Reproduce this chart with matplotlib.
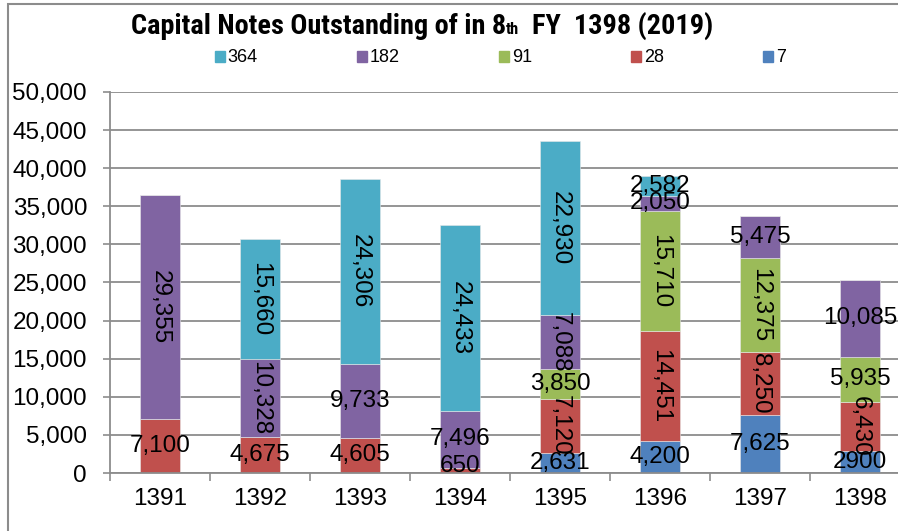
import matplotlib
matplotlib.use('Agg')
import matplotlib.pyplot as plt
import matplotlib.ticker as tkr
from matplotlib.patches import Patch, Rectangle
from matplotlib.offsetbox import TextArea, HPacker, AnchoredOffsetbox
from matplotlib import font_manager

years = ['1391', '1392', '1393', '1394', '1395', '1396', '1397', '1398']
series_names = ['7', '28', '91', '182', '364']  # bottom to top

d7 = [0, 0, 0, 0, 2631, 4200, 7625, 2900]
d28 = [7100, 4675, 4605, 650, 7120, 14451, 8250, 6430]
d91 = [0, 0, 0, 0, 3850, 15710, 12375, 5935]
d182 = [29355, 10328, 9733, 7496, 7088, 2050, 5475, 10085]
d364 = [0, 15660, 24306, 24433, 22930, 2582, 0, 0]

colors = {'7': '#4F81BD', '28': '#C0504D', '91': '#9BBB59', '182': '#8064A2', '364': '#4BACC6'}

# labels drawn vertical in the original (series, year index)
vertical = {('182', 0), ('182', 1), ('364', 1), ('364', 2), ('364', 3),
            ('28', 4), ('182', 4), ('364', 4), ('28', 5), ('91', 5),
            ('28', 6), ('91', 6), ('28', 7)}

names = set(f.name for f in font_manager.fontManager.ttflist)
narrow = 'Liberation Sans'
title_size = 17.3
for cand, sz in [('Liberation Sans Narrow', 20.3), ('Arial Narrow', 20.3), ('Roboto Condensed', 20.3)]:
    if cand in names:
        narrow, title_size = cand, sz
        break

plt.rcParams['font.family'] = ['Liberation Sans', 'DejaVu Sans']

fig = plt.figure(figsize=(8.98, 5.31), dpi=100)
ax = fig.add_axes([110 / 898, 58 / 531, 800 / 898, 381 / 531])

data = {'7': d7, '28': d28, '91': d91, '182': d182, '364': d364}
x = list(range(len(years)))
bottom = [0] * len(years)
for name in series_names:
    vals = data[name]
    ax.bar(x, vals, 0.4, bottom=bottom, color=colors[name], edgecolor='#e8e8e8',
           linewidth=0.4, zorder=2)
    for i, v in enumerate(vals):
        if v == 0:
            continue
        txt = '{:,}'.format(v)
        if name == '7' and years[i] == '1398':
            txt = '2900'
        yc = max(bottom[i] + v / 2.0, 900)
        rot = -90 if (name, i) in vertical else 0
        ax.text(i, yc, txt, ha='center', va='center', rotation=rot,
                rotation_mode='anchor', fontsize=17.5, color='black', zorder=3)
    bottom = [b + v for b, v in zip(bottom, vals)]

ax.set_xlim(-0.5, len(years) - 0.5)
ax.set_ylim(0, 50000)
ax.set_yticks(range(0, 50001, 5000))
ax.yaxis.set_major_formatter(tkr.FuncFormatter(lambda v, p: '{:,}'.format(int(v))))
ax.set_xticks(x)
ax.set_xticklabels(years)
ax.set_xticks([i - 0.5 for i in range(len(years) + 1)], minor=True)
ax.tick_params(axis='x', which='major', length=0, pad=10.5, labelsize=17.5)
ax.tick_params(axis='x', which='minor', length=6, width=1.2, color='#8c8c8c', direction='out')
ax.tick_params(axis='y', length=5, width=1.2, color='#8c8c8c', pad=11.5, labelsize=17.5)
ax.grid(axis='y', color='#8c8c8c', linewidth=1.3, zorder=0)
ax.set_axisbelow(True)
for s in ['top', 'right']:
    ax.spines[s].set_visible(False)
for s in ['left', 'bottom']:
    ax.spines[s].set_color('#8c8c8c')
    ax.spines[s].set_linewidth(1.3)

# chart border
fig.patches.append(Rectangle((8 / 898, -0.2), 1.2, 1.2 - 4 / 531, transform=fig.transFigure,
                             fill=False, edgecolor='#8c8c8c', linewidth=1.5))

# title with small "th"
tprops = dict(fontfamily=narrow, fontweight='bold', fontsize=title_size, color='black')
parts = [TextArea('Capital Notes Outstanding of in 8', textprops=tprops),
         TextArea('th', textprops=dict(fontfamily=narrow, fontweight='bold',
                                       fontsize=title_size * 0.58, color='black')),
         TextArea('  FY  1398 (2019)', textprops=tprops)]
box = HPacker(children=parts, align='baseline', pad=0, sep=0)
anch = AnchoredOffsetbox(loc='center', child=box, pad=0, frameon=False,
                         bbox_to_anchor=(422 / 898, 1 - 26 / 531), bbox_transform=fig.transFigure,
                         borderpad=0)
fig.add_artist(anch)

handles = [Patch(color=colors[n]) for n in series_names[::-1]]
fig.legend(handles, series_names[::-1], loc='center left', ncol=5,
           bbox_to_anchor=(215 / 898, 1 - 58 / 531), frameon=False,
           prop={'family': 'Liberation Sans', 'size': 13}, handlelength=0.55, handleheight=0.55,
           handletextpad=0.15, columnspacing=5.5, borderpad=0, borderaxespad=0)

fig.savefig('out.png', dpi=100)
